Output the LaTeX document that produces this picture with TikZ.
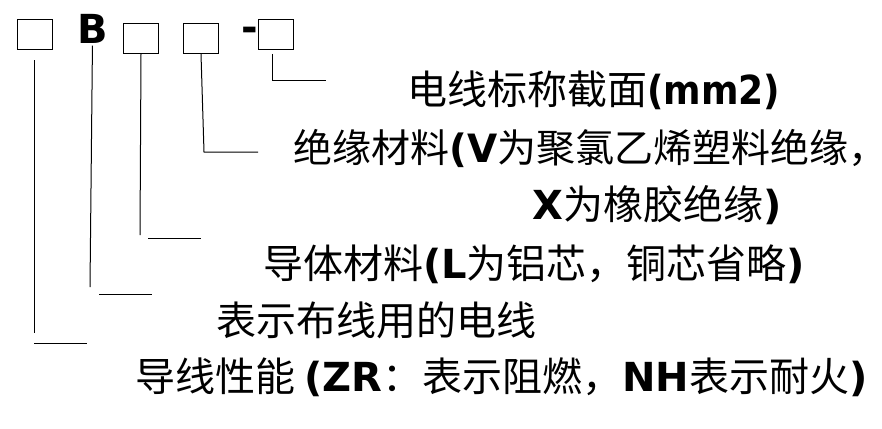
\documentclass[tikz,border=0pt]{standalone}
\usepackage{fontspec}
\setmainfont{DejaVu Sans}
\newfontfamily\cjk{Noto Sans CJK SC}
\newcommand{\lt}[1]{{\fontspec{DejaVu Sans}\bfseries #1}}
\begin{document}
\begin{tikzpicture}[x=1pt,y=-1pt,
  sq/.style={draw,line width=1pt,minimum width=35pt,minimum height=30pt,inner sep=0pt,anchor=north west},
  lead/.style={line width=1pt},
  lbl/.style={anchor=base west,inner sep=0pt,font=\fontsize{40}{44}\selectfont\cjk},
  code/.style={inner sep=0pt,font=\fontsize{40}{44}\selectfont\bfseries}]
\useasboundingbox (0,0) rectangle (882,428);
% code boxes
\node[sq] (b1) at (17,19) {};
\node[code,anchor=north west] (bB) at (77,14) {B};
\node[sq] (b2) at (123,23) {};
\node[sq] (b3) at (183,23) {};
\node[sq] (b4) at (258,19) {};
\node[code,anchor=east] (dash) at (b4.west) {-};
% labels
\node[lbl] (t1) at (407,104) {电线标称截面\lt{\scalebox{0.9}[1]{(mm2)}}};
\node[lbl,font=\fontsize{39}{44}\selectfont\cjk] (t2) at (293,162) {绝缘材料\lt{(V}为聚氯乙烯塑料绝缘\makebox[0.4em][l]{，}};
\node[lbl] (t3) at (532,219) {\lt{X}为橡胶绝缘\lt{)}};
\node[lbl] (t4) at (263,278) {导体材料\lt{(L}为铝芯，铜芯省略\lt{)}};
\node[lbl] (t5) at (216,335) {表示布线用的电线};
\node[lbl] (t6) at (135,391) {导线性能 \lt{(ZR}：表示阻燃，\lt{NH}表示耐火\lt{)}};
% leader coordinates
\coordinate (e1) at (87,343);
\coordinate (e2) at (152,294);
\coordinate (e3) at (201,238);
\coordinate (e4) at (258,152);
\coordinate (e5) at (326,80);
\draw[lead] (34,60) -- (34,333);
\draw[lead] (34,343) -- (e1);
\draw[lead] (bB.south) ++(0,2) -- (90,287);
\draw[lead] (99,294) -- (e2);
\draw[lead] (b2.south) -- (140,235);
\draw[lead] (148,238) -- (e3);
\draw[lead] (b3.south) -- (204,152) -- (e4);
\draw[lead] (272,54) -- (272,80) -- (e5);
\end{tikzpicture}
\end{document}
